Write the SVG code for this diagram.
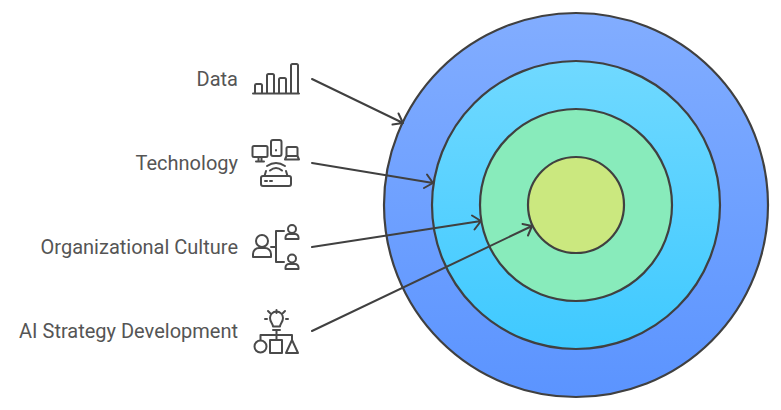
<svg xmlns="http://www.w3.org/2000/svg" width="781" height="410" viewBox="0 0 781 410">
<style>
.ring{stroke:#404040;stroke-width:2.2}
.lbl{font-family:"Roboto","Liberation Sans",sans-serif;font-size:20px;fill:#555555;text-anchor:end}
.ic{fill:none;stroke:#4a4a4a;stroke-width:2;stroke-linecap:round;stroke-linejoin:round}
.con{fill:none;stroke:#404040;stroke-width:2;stroke-linecap:round;stroke-linejoin:round}
</style>
<defs>
<linearGradient id="g1" x1="0" y1="0" x2="0" y2="1"><stop offset="0" stop-color="#82adff"/><stop offset="1" stop-color="#5b94ff"/></linearGradient>
<linearGradient id="g2" x1="0" y1="0" x2="0" y2="1"><stop offset="0" stop-color="#70d9ff"/><stop offset="1" stop-color="#3fc9ff"/></linearGradient>
</defs>
<g id="ring-data"><circle class="ring" cx="576" cy="205" r="192" fill="url(#g1)"/></g>
<g id="ring-technology"><circle class="ring" cx="576" cy="205" r="144" fill="url(#g2)"/></g>
<g id="ring-culture"><circle class="ring" cx="576" cy="205" r="96" fill="#88ebbb"/></g>
<g id="ring-strategy"><circle class="ring" cx="576" cy="205" r="48" fill="#cbe87f"/></g>
<g id="connectors">
<path class="con" d="M312 79L403 123M392.500 124.500L403 123L398.500 113.500"/>
<path class="con" d="M312 163L433 183M424 188L433 183L427 174.500"/>
<path class="con" d="M312 247L481 221M472 215.500L481 221L474.500 229.500"/>
<path class="con" d="M312 331L532 226M522.500 224L532 226L528 235.500"/>
</g>
<g id="node-data">
<text class="lbl" x="238" y="86">Data</text>
<path class="ic" d="M253 93.500H299M255 93.500V85.500a1.500 1.500 0 0 1 1.500-1.500H260.500a1.500 1.500 0 0 1 1.500 1.500V93.500M267 93.500V75.500a1.500 1.500 0 0 1 1.500-1.500H272.500a1.500 1.500 0 0 1 1.500 1.500V93.500M279 93.500V79.500a1.500 1.500 0 0 1 1.500-1.500H284.500a1.500 1.500 0 0 1 1.500 1.500V93.500M291 93.500V65.500a1.500 1.500 0 0 1 1.500-1.500H296.500a1.500 1.500 0 0 1 1.500 1.500V93.500"/>
</g>
<g id="node-technology">
<text class="lbl" x="238" y="170">Technology</text>
<path class="ic" d="M254 146H266a1.500 1.500 0 0 1 1.500 1.500V155.500a1.500 1.500 0 0 1-1.500 1.500H254a1.500 1.500 0 0 1-1.500-1.500V147.500a1.500 1.500 0 0 1 1.500-1.500ZM258.500 157V161M261.500 157V161M256 161.500H264"/>
<path class="ic" d="M273 140H279.500a2 2 0 0 1 2 2V154a2 2 0 0 1-2 2H273a2 2 0 0 1-2-2V142a2 2 0 0 1 2-2ZM276 150V150.500"/>
<path class="ic" d="M288 147H296a1.500 1.500 0 0 1 1.500 1.500V156H286.500V148.500a1.500 1.500 0 0 1 1.500-1.500ZM286.500 156L285 159.500H299L297.500 156"/>
<path class="ic" d="M263 176H289a2 2 0 0 1 2 2V184a2 2 0 0 1-2 2H263a2 2 0 0 1-2-2V178a2 2 0 0 1 2-2ZM265 181H267M270 181H272M264.500 176L266 171M287.500 176L286 171M270 170.500Q276 165.500 282 170.500M267 166Q276 160 285 166"/>
</g>
<g id="node-culture">
<text class="lbl" x="238" y="254">Organizational Culture</text>
<circle class="ic" cx="262" cy="241" r="6"/>
<path class="ic" d="M253 257V254a6 6 0 0 1 6-6H265a6 6 0 0 1 6 6V257Z"/>
<path class="ic" d="M271 247H276M276 231V262M276 231H284M276 262H284"/>
<circle class="ic" cx="292" cy="229" r="4"/>
<path class="ic" d="M285.500 239V237.500a3.500 3.500 0 0 1 3.500-3.500H295a3.500 3.500 0 0 1 3.500 3.500V239Z"/>
<circle class="ic" cx="292" cy="258.500" r="4"/>
<path class="ic" d="M285.500 269V267.500a3.500 3.500 0 0 1 3.500-3.500H295a3.500 3.500 0 0 1 3.500 3.500V269Z"/>
</g>
<g id="node-strategy">
<text class="lbl" x="238" y="338">AI Strategy Development</text>
<path class="ic" d="M273 326.500C273 323.500 270 322 270 318A6.500 6.500 0 0 1 283 318C283 322 280 323.500 280 326.500ZM273 330H280M276.500 310V313M265 319H267M286 319H288M268 311L270 313M285 311L283 313"/>
<path class="ic" d="M276.500 330V340M260.500 340V335H292V340"/>
<circle class="ic" cx="260.500" cy="346.500" r="6"/>
<rect class="ic" x="270" y="340" width="12" height="13"/>
<path class="ic" d="M292 340L298 353H286Z"/>
</g>
</svg>
